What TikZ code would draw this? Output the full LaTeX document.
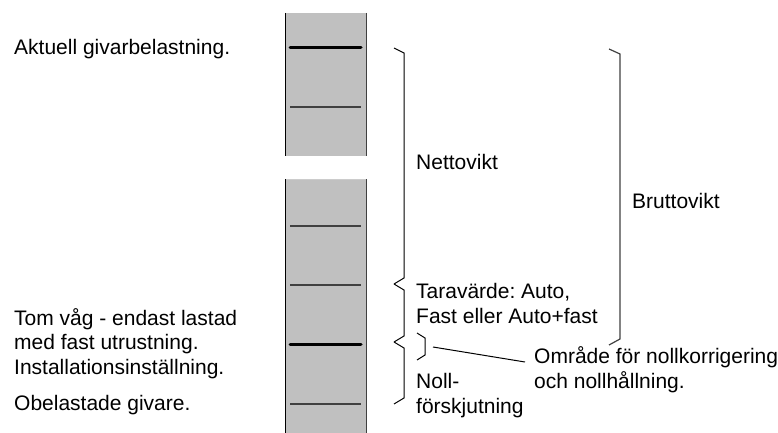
\documentclass[tikz,border=0pt]{standalone}
\usepackage{fontspec}
\setmainfont{Liberation Sans}
\definecolor{colgray}{HTML}{C0C0C0}
\definecolor{edgegray}{HTML}{404040}
\begin{document}
\begin{tikzpicture}[x=1pt,y=-1pt,
  lbl/.style={anchor=base west,inner sep=0pt,align=left,font=\fontsize{21}{24.5}\selectfont\frenchspacing},
  thickmark/.style={line width=3pt,black,line cap=round},
  thinmark/.style={line width=1.2pt,edgegray},
  brk/.style={line width=1pt,black},
  brkgray/.style={line width=1.2pt,black!75}]
\useasboundingbox (0,0) rectangle (778,433);
% column pieces
\fill[colgray] (285,13) rectangle (367,156);
\fill[colgray] (285,179) rectangle (367,433);
\draw[line width=1pt,black] (285.5,13) -- (285.5,156);
\draw[line width=1.4pt,edgegray] (366.5,13) -- (366.5,156);
\draw[line width=1pt,black] (285.5,179) -- (285.5,433);
\draw[line width=1.4pt,edgegray] (366.5,179) -- (366.5,433);
\draw[line width=0.6pt,black!20] (286,179.3) -- (366,179.3);
% marks
\coordinate (m1a) at (290,48); \coordinate (m1b) at (361,48);
\coordinate (m2a) at (290,107); \coordinate (m2b) at (361,107);
\coordinate (m3a) at (290,226); \coordinate (m3b) at (361,226);
\coordinate (m4a) at (290,285); \coordinate (m4b) at (361,285);
\coordinate (m5a) at (290,344); \coordinate (m5b) at (361,344);
\coordinate (m6a) at (290,404); \coordinate (m6b) at (361,404);
\draw[thickmark] (m1a) -- (m1b);
\draw[thinmark] (m2a) -- (m2b);
\draw[thinmark] (m3a) -- (m3b);
\draw[thinmark] (m4a) -- (m4b);
\draw[thickmark] (m5a) -- (m5b);
\draw[thinmark] (m6a) -- (m6b);
% brackets
\draw[brk] (394,48) -- (404,53) -- (404,278) -- (394,284);
\draw[brk] (394,284) -- (404,290) -- (404,336) -- (394,342);
\draw[brk] (394,342) -- (404,348) -- (404,398) -- (394,404);
\draw[brk] (417,333) -- (425,338) -- (425,355) -- (417,360);
\draw[brkgray] (609,49) -- (620,54) -- (620,339) -- (609,345);
% left labels (base = last line)
\node[lbl] (aktuell) at (14,55) {Aktuell givarbelastning.};
\node[lbl] (tom) at (14,374) {Tom våg - endast lastad\\med fast utrustning.\\Installationsinställning.};
\node[lbl] (obel) at (14,410) {Obelastade givare.};
% right labels
\node[lbl] (netto) at (416,169) {Nettovikt};
\node[lbl] (tara) at (416,323) {Taravärde: Auto,\\Fast eller Auto+fast};
\node[lbl] (brutto) at (632,208) {Bruttovikt};
\node[lbl] (noll) at (416,413) {Noll-\\förskjutning};
\node[lbl] (omr) at (534,388) {Område för nollkorrigering\\och nollhållning.};
% connector
\coordinate (smalltip) at (433,347);
\coordinate (omrend) at (525,362);
\draw[line width=1pt,black] (smalltip) -- (omrend);
\end{tikzpicture}
\end{document}
